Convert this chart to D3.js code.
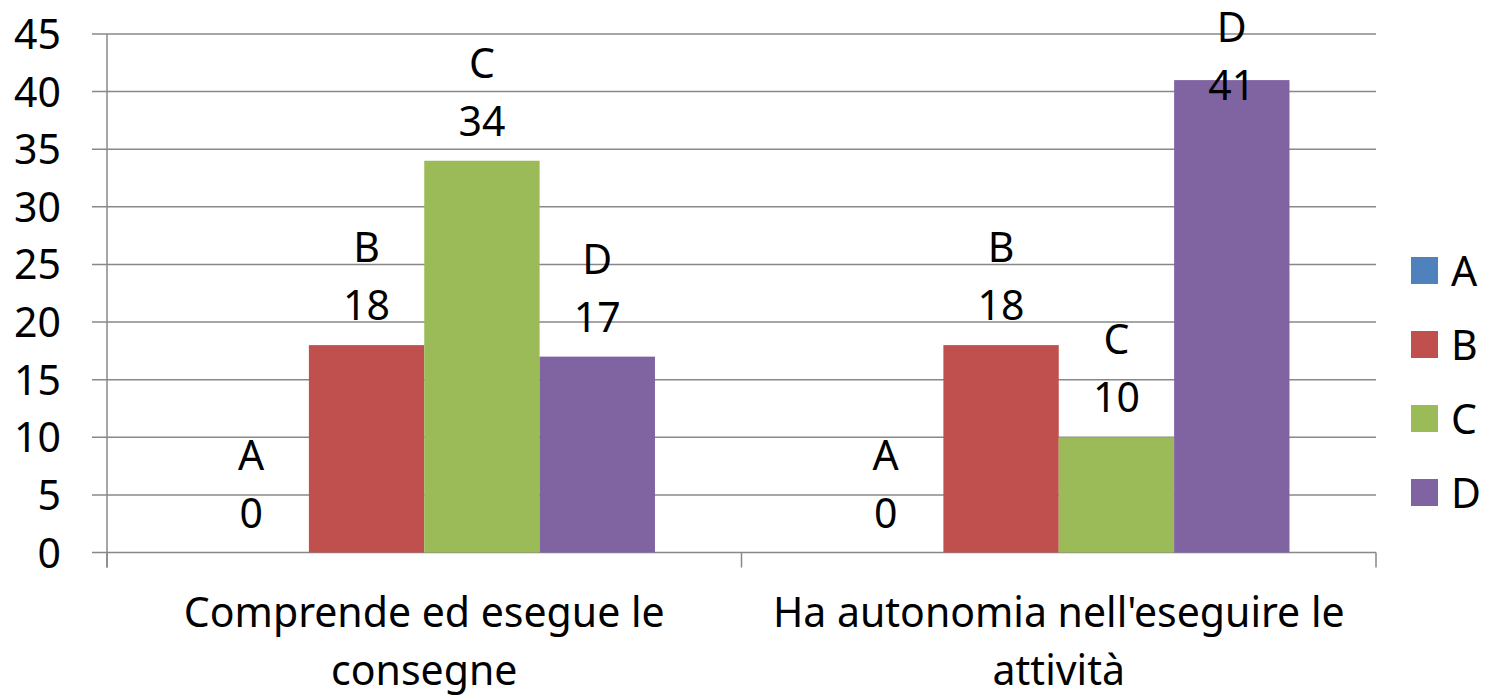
<!DOCTYPE html>
<html>
<head>
<meta charset="utf-8">
<script src="https://cdn.jsdelivr.net/npm/d3@7"></script>
<style>
  body { margin: 0; background: #fff; }
  text { font-family: "Noto Sans", "Open Sans", sans-serif; fill: #000; }
</style>
</head>
<body>
<div id="chart"></div>
<script>
var width = 1489;
var height = 696;

// data
var categories = ["Comprende ed esegue le consegne", "Ha autonomia nell'eseguire le attività"];
var categoryLines = [["Comprende ed esegue le", "consegne"], ["Ha autonomia nell'eseguire le", "attività"]];
var series = ["A", "B", "C", "D"];
var colors = ["#4F81BD", "#C0504D", "#9BBB59", "#8064A2"];
var valuesA = [0, 0];
var valuesB = [18, 18];
var valuesC = [34, 10];
var valuesD = [17, 41];
var yTicks = [0, 5, 10, 15, 20, 25, 30, 35, 40, 45];

var seriesValues = [valuesA, valuesB, valuesC, valuesD];

var plotLeft = 107, plotRight = 1376, plotTop = 34, plotBottom = 552.5;
var fontSize = 41;
var gridColor = "#888888";

var svg = d3.select("#chart").append("svg")
  .attr("width", width).attr("height", height);

var x0 = d3.scaleBand().domain(categories).range([plotLeft, plotRight]).padding(0);
var x1 = d3.scaleBand().domain(series).range([0, x0.bandwidth()])
  .paddingInner(0).paddingOuter(0.75);
var y = d3.scaleLinear().domain([0, 45]).range([plotBottom, plotTop]);

// gridlines
svg.append("g").selectAll("line")
  .data(yTicks)
  .enter().append("line")
  .attr("x1", plotLeft - 15).attr("x2", plotRight)
  .attr("y1", function(d){ return y(d); })
  .attr("y2", function(d){ return y(d); })
  .attr("stroke", gridColor).attr("stroke-width", 1.5);

// y axis line
svg.append("line")
  .attr("x1", plotLeft).attr("x2", plotLeft)
  .attr("y1", plotTop).attr("y2", plotBottom + 15)
  .attr("stroke", gridColor).attr("stroke-width", 1.5);

// x ticks at group boundaries
var bounds = [plotLeft].concat(categories.map(function(c){ return x0(c) + x0.bandwidth(); }));
svg.append("g").selectAll("line")
  .data(bounds)
  .enter().append("line")
  .attr("x1", function(d){ return d; }).attr("x2", function(d){ return d; })
  .attr("y1", plotBottom).attr("y2", plotBottom + 15)
  .attr("stroke", gridColor).attr("stroke-width", 1.5);

// y tick labels
svg.append("g").selectAll("text")
  .data(yTicks)
  .enter().append("text")
  .attr("x", 61)
  .attr("y", function(d){ return y(d) + 15; })
  .attr("text-anchor", "end")
  .style("font-size", fontSize + "px")
  .text(function(d){ return d; });

// bars
var rows = [];
categories.forEach(function(c, ci){
  series.forEach(function(s, si){
    rows.push({cat: c, ser: s, color: colors[si], value: seriesValues[si][ci]});
  });
});

var groups = svg.append("g").selectAll("g")
  .data(rows)
  .enter().append("g");

groups.append("rect")
  .attr("x", function(d){ return x0(d.cat) + x1(d.ser); })
  .attr("y", function(d){ return y(d.value); })
  .attr("width", x1.bandwidth())
  .attr("height", function(d){ return y(0) - y(d.value); })
  .attr("fill", function(d){ return d.color; });

// data labels (series name over value), clamped to the top
groups.each(function(d){
  var cx = x0(d.cat) + x1(d.ser) + x1.bandwidth() / 2;
  var valueBase = y(d.value) - 25;
  var letterBase = valueBase - 58;
  if (letterBase < 42) { letterBase = 42; valueBase = letterBase + 58; }
  var g = d3.select(this);
  g.append("text").attr("x", cx).attr("y", letterBase)
    .attr("text-anchor", "middle").style("font-size", fontSize + "px").text(d.ser);
  g.append("text").attr("x", cx).attr("y", valueBase)
    .attr("text-anchor", "middle").style("font-size", fontSize + "px").text(d.value);
});

// category labels
categories.forEach(function(c, ci){
  var cx = x0(c) + x0.bandwidth() / 2;
  categoryLines[ci].forEach(function(line, li){
    svg.append("text")
      .attr("x", cx).attr("y", 627 + li * 58)
      .attr("text-anchor", "middle")
      .style("font-size", fontSize + "px")
      .text(line);
  });
});

// legend
var legend = svg.append("g").selectAll("g")
  .data(series)
  .enter().append("g")
  .attr("transform", function(d, i){ return "translate(1411," + (257 + i * 74) + ")"; });

legend.append("rect")
  .attr("width", 27).attr("height", 27)
  .attr("fill", function(d, i){ return colors[i]; });

legend.append("text")
  .attr("x", 40).attr("y", 29)
  .style("font-size", fontSize + "px")
  .text(function(d){ return d; });
</script>
</body>
</html>
